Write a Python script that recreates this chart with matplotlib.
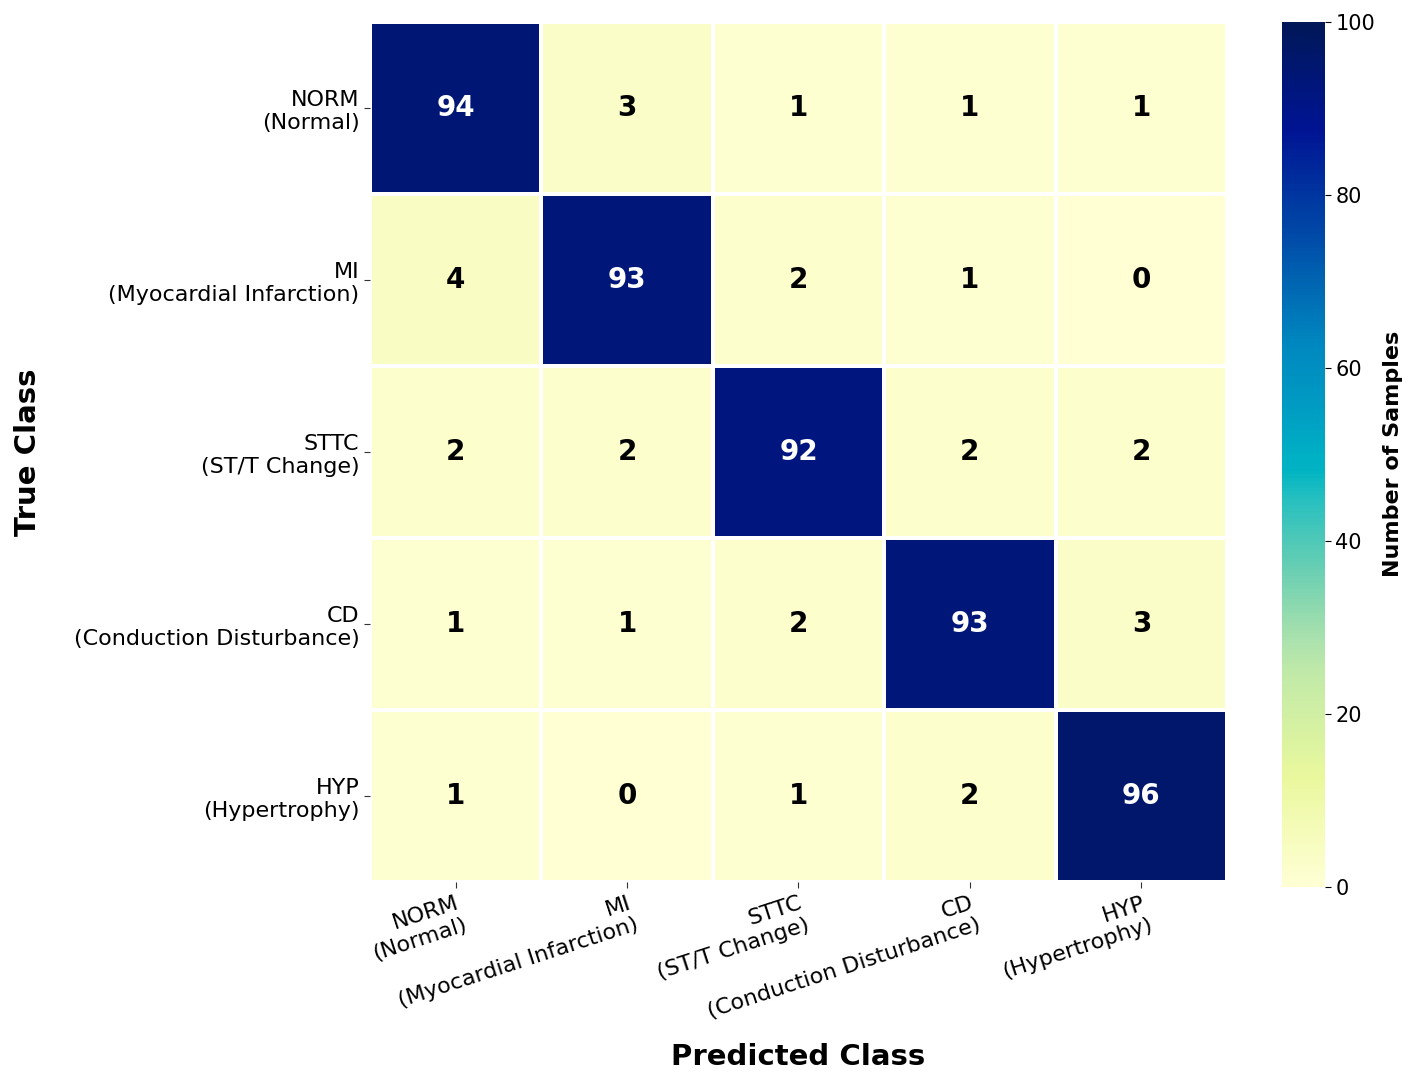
import numpy as np
import matplotlib
matplotlib.use("Agg")
import matplotlib.pyplot as plt
from matplotlib.colors import ListedColormap, rgb_to_hsv, hsv_to_rgb

# =========================================================
# DATA
# =========================================================

CLASSES = [
    "NORM\n(Normal)",
    "MI\n(Myocardial Infarction)",
    "STTC\n(ST/T Change)",
    "CD\n(Conduction Disturbance)",
    "HYP\n(Hypertrophy)",
]

ROW_NORM = [94, 3, 1, 1, 1]
ROW_MI = [4, 93, 2, 1, 0]
ROW_STTC = [2, 2, 92, 2, 2]
ROW_CD = [1, 1, 2, 93, 3]
ROW_HYP = [1, 0, 1, 2, 96]

cm = np.array([ROW_NORM, ROW_MI, ROW_STTC, ROW_CD, ROW_HYP])

# =========================================================
# COLORMAP (YlGnBu, a bit more saturated)
# =========================================================

base = plt.get_cmap("YlGnBu")(np.linspace(0, 1, 256))[:, :3]
hsv = rgb_to_hsv(base)
hsv[:, 1] = np.clip(hsv[:, 1] * (1 + hsv[:, 1]), 0, 1)
cmap = ListedColormap(hsv_to_rgb(hsv))

# =========================================================
# FIGURE
# =========================================================

fig = plt.figure(figsize=(14.17, 10.8), dpi=100)

ax = fig.add_axes([0.261, 0.183, 0.605, 0.797])
cax = fig.add_axes([0.905, 0.179, 0.030, 0.801])

n = len(CLASSES)

mesh = ax.pcolormesh(
    np.arange(n + 1),
    np.arange(n + 1),
    cm,
    cmap=cmap,
    vmin=0,
    vmax=100,
    edgecolors="white",
    linewidth=1.5
)

ax.set_xlim(0, n)
ax.set_ylim(n, 0)

for i in range(n):
    for j in range(n):
        val = cm[i, j]
        ax.text(
            j + 0.5, i + 0.5, str(val),
            ha="center", va="center",
            fontsize=20, fontweight="bold",
            color="white" if val > 50 else "black"
        )

for s in ax.spines.values():
    s.set_visible(False)

ax.set_xticks(np.arange(n) + 0.5)
ax.set_yticks(np.arange(n) + 0.5)

ax.set_xticklabels(
    CLASSES, rotation=18, ha="right",
    rotation_mode="anchor", fontsize=16
)
ax.set_yticklabels(CLASSES, fontsize=16, rotation=0, ha="right")
for t in ax.get_yticklabels() + ax.get_xticklabels():
    t.set_multialignment("right")

ax.tick_params(axis="both", length=4, color="#333333")

ax.set_xlabel("Predicted Class", fontsize=21, fontweight="bold", va="center")
ax.xaxis.set_label_coords(0.5, -0.203)
ax.set_ylabel("True Class", fontsize=21, fontweight="bold", va="center")
ax.yaxis.set_label_coords(-0.399, 0.5)

cbar = fig.colorbar(mesh, cax=cax)
cbar.outline.set_visible(False)
cbar.set_ticks([0, 20, 40, 60, 80, 100])
cbar.ax.tick_params(labelsize=15, length=4)
cbar.set_label("Number of Samples", fontsize=16, fontweight="bold", labelpad=6)

fig.savefig("out.png", dpi=100)
